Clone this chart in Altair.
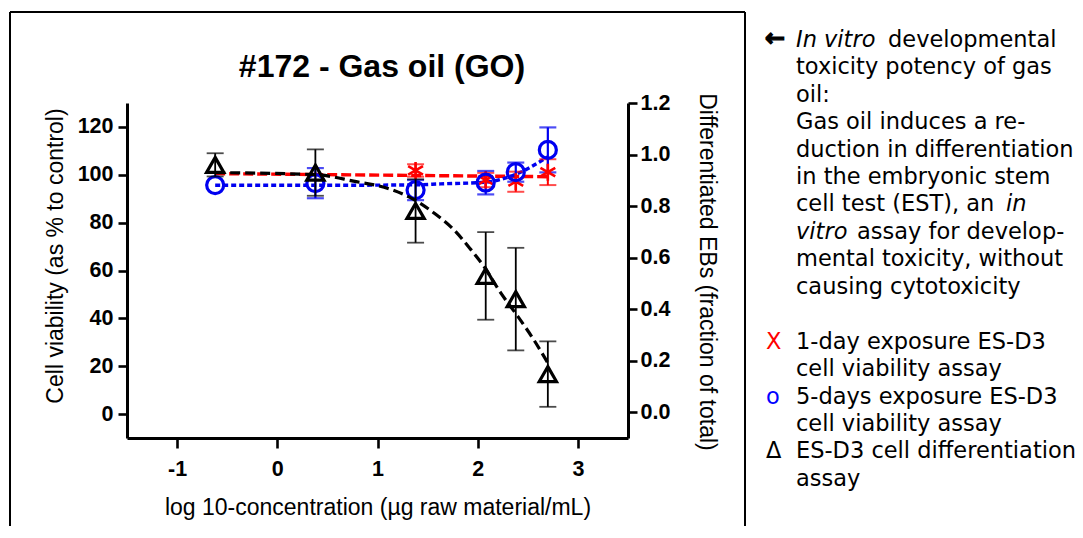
import altair as alt
import pandas as pd

# ---------------- data ----------------
conc = [-0.62, 0.38, 1.38, 2.08, 2.38, 2.70]

# 1-day exposure viability (red asterisks), left axis
viab1_x = [1.38, 2.08, 2.38, 2.70]
viab1_y = [101.8, 97.8, 97.1, 101.1]
viab1_err = [2.6, 3.0, 4.2, 5.4]

# 5-days exposure viability (blue circles), left axis
viab5_y = [95.7, 96.5, 93.6, 96.7, 101.1, 110.4]
viab5_err = [0.0, 6.3, 4.2, 4.9, 4.0, 9.4]

# differentiation (black triangles), right axis
diff_y = [0.960, 0.930, 0.781, 0.529, 0.439, 0.148]
diff_err = [0.045, 0.090, 0.123, 0.170, 0.199, 0.127]

# fitted curves
fit1_x = [-0.62, 2.70]
fit1_y = [100.5, 99.2]
fit5_x = [-0.62, 0.38, 1.38, 1.63, 2.08, 2.38, 2.70]
fit5_y = [95.6, 95.6, 95.8, 96.2, 96.9, 100.2, 107.5]
fitd_x = [-0.62, 0.38, 0.76, 1.13, 1.36, 1.56, 1.76, 1.93, 2.06, 2.23, 2.40, 2.56, 2.70]
fitd_y = [0.930, 0.922, 0.897, 0.865, 0.826, 0.774, 0.709, 0.632, 0.567, 0.463, 0.372, 0.281, 0.191]

x_ticks = [-1, 0, 1, 2, 3]
left_ticks = [0, 20, 40, 60, 80, 100, 120]
right_ticks = [0.0, 0.2, 0.4, 0.6, 0.8, 1.0, 1.2]

chart_title = "#172 - Gas oil (GO)"
x_title = "log 10-concentration (µg raw material/mL)"
left_title = "Cell viability (as % to control)"
right_title = "Differentiated EBs (fraction of total)"

RED = "#ff0000"
BLUE = "#0000f0"
BLACK = "#000000"
FONT = "Liberation Sans"
NOTE_FONT = "DejaVu Sans"

# ---------------- frames ----------------
def err_frames(xs, ys, es):
    rows = [(x, y, e) for x, y, e in zip(xs, ys, es) if e > 0]
    bars = pd.DataFrame({"x": [r[0] for r in rows],
                         "lo": [r[1] - r[2] for r in rows],
                         "hi": [r[1] + r[2] for r in rows]})
    caps = pd.DataFrame({"x": [r[0] for r in rows] * 2,
                         "v": [r[1] - r[2] for r in rows] + [r[1] + r[2] for r in rows]})
    return bars, caps

d1 = pd.DataFrame({"x": viab1_x, "y": viab1_y})
d5 = pd.DataFrame({"x": conc, "y": viab5_y})
dd = pd.DataFrame({"x": conc, "y": diff_y})
b1, c1 = err_frames(viab1_x, viab1_y, viab1_err)
b5, c5 = err_frames(conc, viab5_y, viab5_err)
bd, cd = err_frames(conc, diff_y, diff_err)
f1 = pd.DataFrame({"x": fit1_x, "y": fit1_y})
f5 = pd.DataFrame({"x": fit5_x, "y": fit5_y})
fd = pd.DataFrame({"x": fitd_x, "y": fitd_y})

# ---------------- scales / axes ----------------
common_axis = dict(domainColor=BLACK, domainWidth=3, tickColor=BLACK, tickWidth=2.6,
                   labelFont=FONT, labelFontSize=21.5, labelFontWeight="bold",
                   labelColor=BLACK, grid=False, title=None)

x_scale = alt.Scale(domain=[-1.5, 3.5], nice=False, zero=False)
x_axis = alt.Axis(orient="bottom", values=x_ticks, tickSize=10, labelPadding=10,
                  labelExpr="'' + datum.value", **common_axis)
l_scale = alt.Scale(domain=[-10, 130], nice=False, zero=False)
l_axis = alt.Axis(orient="left", values=left_ticks, tickSize=9, labelPadding=5,
                  labelExpr="'' + datum.value", **common_axis)
r_scale = alt.Scale(domain=[-0.1, 1.2], nice=False, zero=False)
r_axis = alt.Axis(orient="right", values=right_ticks, tickSize=9, labelPadding=3,
                  labelExpr="format(datum.value, '.1f')", **common_axis)

def X(f="x"):
    return alt.X(f + ":Q", scale=x_scale, axis=x_axis)

def YL(f):
    return alt.Y(f + ":Q", scale=l_scale, axis=l_axis)

def YR(f):
    return alt.Y(f + ":Q", scale=r_scale, axis=r_axis)

STAR = "M0,-1L0,1M-0.87,-0.5L0.87,0.5M-0.87,0.5L0.87,-0.5"
TRI = "M0,-0.8L0.92,0.8L-0.92,0.8Z"

left = alt.layer(
    alt.Chart(f1).mark_line(color=RED, strokeWidth=3.4, strokeDash=[10, 4]).encode(x=X(), y=YL("y")),
    alt.Chart(f5).mark_line(color=BLUE, strokeWidth=3.4, strokeDash=[5, 3],
                            interpolate="monotone").encode(x=X(), y=YL("y")),
    alt.Chart(b1).mark_rule(color=RED, strokeWidth=2).encode(x=X(), y=YL("lo"), y2=alt.Y2("hi")),
    alt.Chart(c1).mark_tick(color=RED, orient="horizontal", size=17, thickness=2).encode(x=X(), y=YL("v")),
    alt.Chart(b5).mark_rule(color=BLUE, strokeWidth=2.2).encode(x=X(), y=YL("lo"), y2=alt.Y2("hi")),
    alt.Chart(c5).mark_tick(color=BLUE, orient="horizontal", size=17, thickness=2.2).encode(x=X(), y=YL("v")),
    alt.Chart(d1).mark_point(shape=STAR, size=290, filled=False, color=RED, strokeWidth=2.6,
                             opacity=1).encode(x=X(), y=YL("y")),
    alt.Chart(d5).mark_point(shape="circle", size=290, filled=False, color=BLUE, strokeWidth=3.2,
                             opacity=1).encode(x=X(), y=YL("y")),
)

right = alt.layer(
    alt.Chart(fd).mark_line(color=BLACK, strokeWidth=3.2, strokeDash=[10, 5],
                            interpolate="monotone").encode(x=X(), y=YR("y")),
    alt.Chart(bd).mark_rule(color=BLACK, strokeWidth=1.8).encode(x=X(), y=YR("lo"), y2=alt.Y2("hi")),
    alt.Chart(cd).mark_tick(color=BLACK, orient="horizontal", size=17, thickness=1.8).encode(x=X(), y=YR("v")),
    alt.Chart(dd).mark_point(shape=TRI, size=350, filled=False, color=BLACK, strokeWidth=3.2,
                             opacity=1).encode(x=X(), y=YR("y")),
)

# ---------------- annotations (pixel positions relative to plot origin) ----------------
OX, OY = 127, 103  # page position of plot origin
one = alt.Data(values=[{}])

def txt(t, px, py, size, color=BLACK, font=FONT, weight="normal", style="normal",
        align="left", baseline="alphabetic", angle=0, stroke_w=0):
    kw = {}
    if stroke_w:
        kw = dict(stroke=color, strokeWidth=stroke_w)
    return alt.Chart(one).mark_text(
        font=font, fontSize=size, fontWeight=weight, fontStyle=style, color=color,
        align=align, baseline=baseline, angle=angle, **kw
    ).encode(x=alt.value(px - OX), y=alt.value(py - OY), text=alt.value(t))

def rule(x0, y0, x1, y1):
    return alt.Chart(one).mark_rule(color=BLACK, strokeWidth=2).encode(
        x=alt.value(x0 - OX), x2=alt.value(x1 - OX), y=alt.value(y0 - OY), y2=alt.value(y1 - OY))

annot = [
    rule(10, 12, 745, 12), rule(10, 12, 10, 545), rule(745, 12, 745, 545),
    txt(chart_title, 382, 77, 32, weight="bold", align="center"),
    txt(x_title, 378, 515, 23, align="center"),
    txt(left_title, 63, 256, 23, align="center", angle=270),
    txt(right_title, 700, 272, 23, align="center", angle=90),
]

note_lines = [
    "", "toxicity potency of gas", "oil:", "Gas oil induces a re-",
    "duction in differentiation", "in the embryonic stem", "",
    "", "mental toxicity, without", "causing cytotoxicity", "",
    "1-day exposure ES-D3", "cell viability assay", "5-days exposure ES-D3",
    "cell viability assay", "ES-D3 cell differentiation", "assay",
]
NOTE_X = 796
def line_y(k):
    return 46.7 + 27.45 * k

NS = 22.5
for k, t in enumerate(note_lines):
    if t:
        annot.append(txt(t, NOTE_X, line_y(k), NS, font=NOTE_FONT))
# mixed-style lines
annot += [
    txt("In vitro", NOTE_X, line_y(0), NS, font=NOTE_FONT, style="italic"),
    txt("developmental", 888, line_y(0), NS, font=NOTE_FONT),
    txt("cell test (EST), an", NOTE_X, line_y(6), NS, font=NOTE_FONT),
    txt("in", 1006, line_y(6), NS, font=NOTE_FONT, style="italic"),
    txt("vitro", NOTE_X, line_y(7), NS, font=NOTE_FONT, style="italic"),
    txt("assay for develop-", 857, line_y(7), NS, font=NOTE_FONT),
    txt("\u2190", 765, line_y(0) - 1, 24, font=NOTE_FONT, weight="bold", stroke_w=1.3),
    txt("X", 766, line_y(11), NS, font=NOTE_FONT, color=RED),
    txt("o", 766, line_y(13), NS, font=NOTE_FONT, color="#0000ff"),
    txt("\u0394", 766, line_y(15), NS, font=NOTE_FONT),
]

chart = alt.layer(left, right, *annot).resolve_scale(y="independent").properties(
    width=501, height=335,
    autosize=alt.AutoSizeParams(type="none"),
    padding={"left": 119, "top": 95, "right": 447, "bottom": 88},
    background="white",
).configure_view(strokeWidth=0)

chart.save("out.html", embed_options={"renderer": "svg", "actions": False})
